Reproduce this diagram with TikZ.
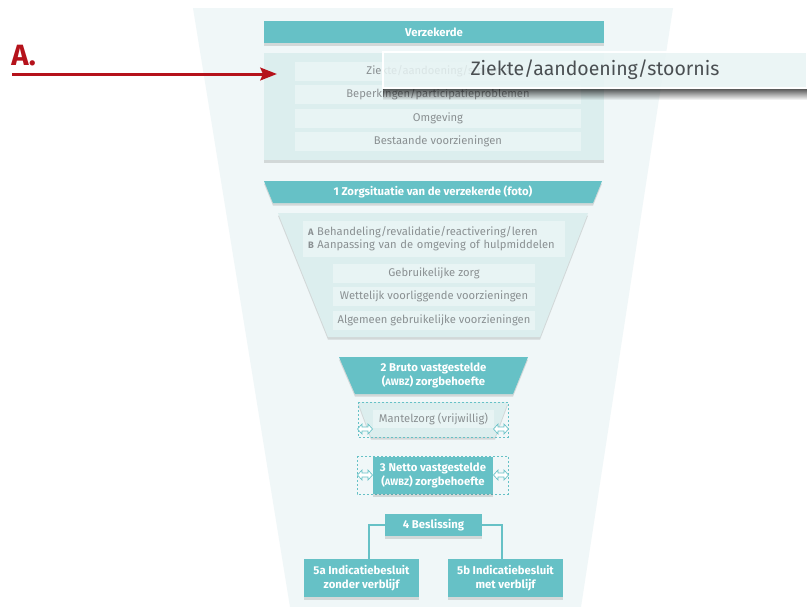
\documentclass[tikz,border=0pt]{standalone}
\usepackage{fontspec}
\setmainfont{Fira Sans}
\usetikzlibrary{shadows,fadings,arrows.meta}
\definecolor{teal1}{HTML}{66C1C6}
\definecolor{panel}{HTML}{DCEEEE}
\definecolor{rowc}{HTML}{E8F4F4}
\definecolor{greytxt}{HTML}{8A9092}
\definecolor{funnel}{HTML}{F0F7F8}
\definecolor{redA}{HTML}{B5121B}
\definecolor{darktxt}{HTML}{4A4F52}
\tikzfading[name=myfade, top color=transparent!30, bottom color=transparent!100]
\begin{document}
\begin{tikzpicture}[x=0.75pt,y=-0.75pt,
  tealbox/.style={fill=teal1, text=white, font=\fontsize{8.5}{10}\selectfont\bfseries, inner sep=0pt, align=center},
  rowbox/.style={fill=rowc, text=greytxt, font=\fontsize{8.4}{10}\selectfont, inner sep=0pt},
  txt/.style={text=white, font=\fontsize{8.5}{10}\selectfont\bfseries, inner sep=0pt, align=center},
  shad/.style={drop shadow={shadow xshift=0pt, shadow yshift=-2pt, opacity=0.18, fill=black!70}},
  dashbox/.style={draw=teal1, line width=0.4pt, dash pattern=on 1.5pt off 1.5pt},
  conn/.style={draw=teal1, line width=1.6pt},
  dblarr/.pic={\draw[fill=white, draw=teal1, line width=0.5pt]
     (-7.5,0) -- (-3,-5) -- (-3,-2) -- (3,-2) -- (3,-5) -- (7.5,0) -- (3,5) -- (3,2) -- (-3,2) -- (-3,5) -- cycle;}
]
\useasboundingbox (0,0) rectangle (808,607);
\fill[white] (0,0) rectangle (808,607);
% funnel background
\fill[funnel] (193,8) -- (673,8) -- (581,607) -- (290,607) -- cycle;

% Verzekerde
\node[tealbox, shad, minimum width=255pt, minimum height=16.5pt] (verz) at (434,32) {Verzekerde};
\node[fill=panel, shad, minimum width=255pt, minimum height=80.25pt, inner sep=0pt] (p1) at (434,106.5) {};
\node[rowbox, minimum width=214.5pt, minimum height=14.25pt] (r1) at (438,71.5) {Ziekte/aandoening/stoornis};
\node[rowbox, minimum width=214.5pt, minimum height=14.25pt] (r2) at (438,94.5) {Beperkingen/participatieproblemen};
\node[rowbox, minimum width=214.5pt, minimum height=14.25pt] (r3) at (438,118) {Omgeving};
\node[rowbox, minimum width=214.5pt, minimum height=14.25pt] (r4) at (438,141) {Bestaande voorzieningen};

% 1 Zorgsituatie
\fill[teal1, shad] (264,181) -- (602,181) -- (593,203) -- (273,203) -- cycle;
\node[txt] (z1) at (433,192) {1 Zorgsituatie van de verzekerde (foto)};
\fill[panel, shad] (278,213) -- (588,213) -- (540,337) -- (328,337) -- cycle;
\node[rowbox, minimum width=196.5pt, minimum height=27pt, align=left, text width=189pt] (ab) at (434,239)
  {{\fontsize{7}{8}\selectfont\bfseries A} Behandeling/revalidatie/reactivering/leren\\
   {\fontsize{7}{8}\selectfont\bfseries B} Aanpassing van de omgeving of hulpmiddelen};
\node[rowbox, minimum width=151.5pt, minimum height=14.25pt] (g1) at (434,273.5) {Gebruikelijke zorg};
\node[rowbox, minimum width=151.5pt, minimum height=14.25pt] (g2) at (434,296.5) {Wettelijk voorliggende voorzieningen};
\node[rowbox, minimum width=151.5pt, minimum height=14.25pt] (g3) at (434,320) {Algemeen gebruikelijke voorzieningen};

% 2 Bruto
\fill[teal1, shad] (339,357) -- (528,357) -- (513,394) -- (355,394) -- cycle;
\node[txt] (b2) at (433.5,375.5) {2 Bruto vastgestelde\\({\fontsize{7}{8}\selectfont AWBZ}) zorgbehoefte};
\fill[panel, shad] (358,402) -- (508,402) -- (495,437) -- (371,437) -- cycle;
\draw[dashbox] (358,402) rectangle (508,437);
\node[rowbox, minimum width=90.75pt, minimum height=13.5pt] (mz) at (433.5,419) {Mantelzorg (vrijwillig)};
\pic at (365,429) {dblarr};
\pic at (501,429) {dblarr};

% 3 Netto
\draw[dashbox] (357,456) rectangle (508,494);
\node[tealbox, shad, minimum width=90pt, minimum height=27.75pt] (b3) at (433,475.5) {3 Netto vastgestelde\\({\fontsize{7}{8}\selectfont AWBZ}) zorgbehoefte};
\pic at (365,475) {dblarr};
\pic at (501,475) {dblarr};

% 4 Beslissing
\node[tealbox, shad, minimum width=72.75pt, minimum height=16.5pt] (b4) at (433.5,525) {4 Beslissing};
\node[tealbox, shad, minimum width=86.25pt, minimum height=28.5pt] (b5a) at (361.5,578) {5a Indicatiebesluit\\zonder verblijf};
\node[tealbox, shad, minimum width=86.25pt, minimum height=28.5pt] (b5b) at (505.5,578) {5b Indicatiebesluit\\met verblijf};
\draw[conn] (b4.west) -| ([xshift=5.6pt]b5a.north);
\draw[conn] (b4.east) -| ([xshift=-2.6pt]b5b.north);

% popup
\fill[black, path fading=myfade] (383,88) rectangle (807,100);
\node[fill=rowc, fill opacity=0.85, text opacity=1, draw=white, line width=1.2pt, minimum width=318pt, minimum height=27pt, inner sep=0pt,
  text=darktxt, font=\fontsize{14.6}{16}\selectfont] (pop) at (595,70) {Ziekte/aandoening/stoornis};

% red arrow
\node[text=redA, font=\fontsize{22}{24}\selectfont\bfseries, anchor=base west, inner sep=0pt] (lblA) at (11,65) {A.};
\coordinate (astart) at (12,74);
\coordinate (atip) at (277,74);
\draw[redA, line width=2.25pt, -{Stealth[length=12.5pt,width=9.5pt,inset=2pt]}] (astart) -- (atip);
\end{tikzpicture}
\end{document}
